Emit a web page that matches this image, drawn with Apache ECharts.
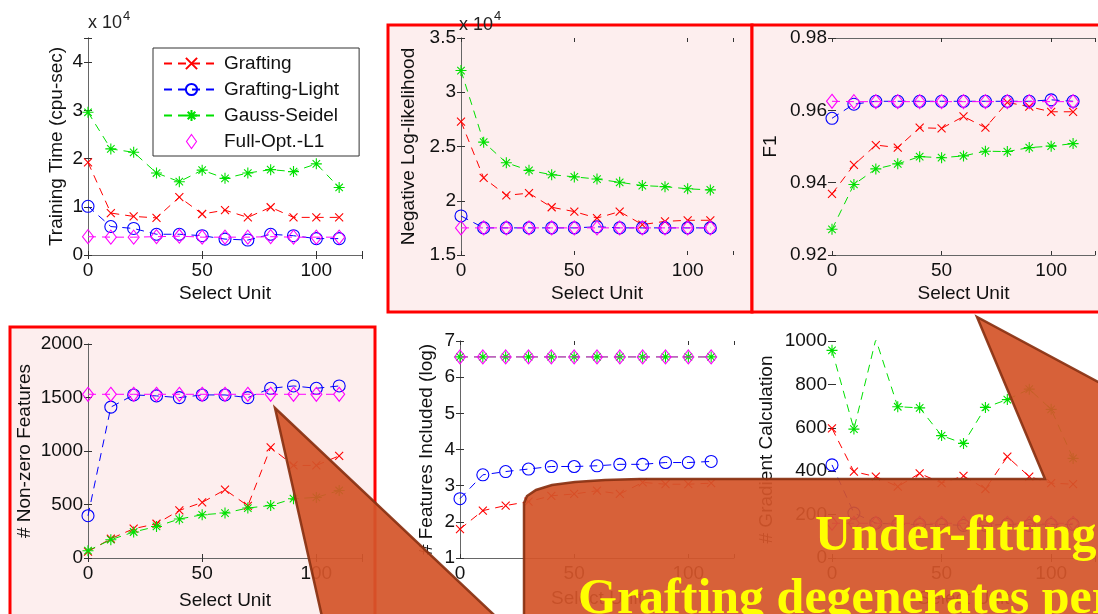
<!DOCTYPE html>
<html><head><meta charset="utf-8">
<script src="https://cdn.jsdelivr.net/npm/echarts@6/dist/echarts.min.js"></script>
<style>html,body{margin:0;padding:0;background:#fff}#c{width:1098px;height:614px}</style>
</head><body><div id="c"></div>
<script>
// ---- data ----
const selectUnit = [0,10,20,30,40,50,60,70,80,90,100,110];
const seriesNames = ['Grafting','Grafting-Light','Gauss-Seidel','Full-Opt.-L1'];
// Training time (x 10^4 cpu-sec)
const trainGrafting = [1.92,0.87,0.80,0.77,1.20,0.85,0.93,0.78,0.99,0.78,0.78,0.78];
const trainLight    = [1.01,0.59,0.55,0.43,0.43,0.40,0.33,0.31,0.43,0.40,0.34,0.34];
const trainGauss    = [2.96,2.20,2.13,1.70,1.52,1.76,1.59,1.70,1.77,1.73,1.89,1.40];
const trainFull     = [0.38,0.37,0.37,0.38,0.39,0.37,0.37,0.37,0.38,0.37,0.37,0.37];
// Negative log-likelihood (x 10^4)
const nllGrafting = [2.73,2.21,2.05,2.07,1.94,1.90,1.84,1.90,1.78,1.81,1.82,1.82];
const nllLight    = [1.86,1.75,1.75,1.75,1.75,1.75,1.76,1.75,1.75,1.75,1.75,1.75];
const nllGauss    = [3.20,2.54,2.35,2.28,2.24,2.22,2.20,2.17,2.14,2.13,2.11,2.10];
const nllFull     = [1.75,1.75,1.75,1.75,1.75,1.75,1.75,1.75,1.75,1.75,1.75,1.75];
// F1
const f1Grafting = [0.9369,0.9449,0.9504,0.9497,0.9552,0.9550,0.9583,0.9552,0.9622,0.9610,0.9596,0.9596];
const f1Light    = [0.9578,0.9617,0.9625,0.9625,0.9625,0.9625,0.9625,0.9625,0.9625,0.9625,0.9629,0.9625];
const f1Gauss    = [0.9271,0.9395,0.9438,0.9452,0.9472,0.9469,0.9474,0.9487,0.9486,0.9497,0.9501,0.9508];
const f1Full     = [0.9625,0.9624,0.9624,0.9624,0.9624,0.9624,0.9624,0.9624,0.9624,0.9624,0.9624,0.9624];
// # Non-zero features
const nzGrafting = [60,180,274,320,445,519,638,488,1033,865,865,955];
const nzLight    = [395,1410,1524,1515,1499,1524,1524,1499,1586,1608,1586,1608];
const nzGauss    = [68,171,243,295,364,404,420,467,491,554,566,631];
const nzFull     = [1530,1530,1530,1530,1530,1530,1530,1530,1530,1530,1530,1530];
// # Features included (log)
const fiGrafting = [1.80,2.31,2.45,2.56,2.72,2.77,2.86,2.77,3.09,3.04,3.04,3.07];
const fiLight    = [2.64,3.30,3.39,3.46,3.53,3.53,3.55,3.59,3.59,3.64,3.64,3.67];
const fiGauss    = [6.56,6.56,6.56,6.56,6.56,6.56,6.56,6.56,6.56,6.56,6.56,6.56];
const fiFull     = [6.56,6.56,6.56,6.56,6.56,6.56,6.56,6.56,6.56,6.56,6.56,6.56];
// # Gradient calculation
const gcGrafting = [597,398,375,329,390,345,378,318,467,375,345,340];
const gcLight    = [429,207,161,155,155,155,150,150,155,150,155,155];
const gcGauss    = [957,594,1008,697,692,564,528,694,730,778,685,459];
const gcFull     = [160,160,160,160,160,160,160,160,160,160,160,160];
// tick settings
const xTicks = {min:0, max:120, interval:50};
const yTitles = ['Training Time (cpu-sec)','Negative Log-likelihood','F1','# Non-zero Features','# Features Included (log)','# Gradient Calculation'];
const yRanges = [[0,4.5,1],[1.5,3.5,0.5],[0.92,0.98,0.02],[0,2000,500],[1,7,1],[0,1000,200]];
const xTitle = 'Select Unit';

// ---- layout ----
const FONT = "'Liberation Sans', Arial, sans-serif";
const SERIF = "'Liberation Serif','Times New Roman',serif";
const grids = [
  {left:88, top:38, width:274, height:217},
  {left:461, top:38, width:272, height:217},
  {left:832, top:38, width:271, height:217},
  {left:88, top:344, width:274, height:214},
  {left:460, top:341, width:274, height:217},
  {left:832, top:341, width:271, height:217}
];
const yGaps = [22,43,52,54,24,56];
const xGaps = [29,29,29,33,31,31];
// which box edges are visible [left, bottom, right, top]
const edges = [[1,0,1,1],[1,0,1,0],[0,1,0,1],[1,1,1,0],[1,1,1,0],[0,1,0,0]];
const AX = '#666';

const colors = ['#ff0000','#0000ff','#00e000','#ff00ff'];
const symbols = ['path://M0,0L10,10M0,10L10,0','circle','path://M5,0L5,10M0,5L10,5M1.6,1.6L8.4,8.4M1.6,8.4L8.4,1.6','diamond'];
const symSizes = [8,12,11,[11,14]];

const plotData = [
  [trainGrafting,trainLight,trainGauss,trainFull],
  [nllGrafting,nllLight,nllGauss,nllFull],
  [f1Grafting,f1Light,f1Gauss,f1Full],
  [nzGrafting,nzLight,nzGauss,nzFull],
  [fiGrafting,fiLight,fiGauss,fiFull],
  [gcGrafting,gcLight,gcGauss,gcFull]
];
const hideLine = {'0-3':1,'2-3':1,'4-3':1,'4-2':1,'5-3':1};

const xAxes = [], yAxes = [], series = [];
grids.forEach((g,i)=>{
  const e = edges[i];
  const [ymin,ymax,yint] = yRanges[i];
  xAxes.push({type:'value', gridIndex:i, position:'bottom', min:xTicks.min, max:xTicks.max, interval:xTicks.interval,
    name:xTitle, nameLocation:'middle', nameGap:xGaps[i], nameTextStyle:{fontFamily:FONT,fontSize:19,color:'#111'},
    axisLine:{show:!!e[1], lineStyle:{color:AX,width:1}},
    axisTick:{inside:true,length:4,lineStyle:{color:'#333'}},
    axisLabel:{margin:6,fontFamily:FONT,fontSize:19,color:'#111',formatter:v=> (v%50===0? String(v):'')},
    splitLine:{show:false}});
  yAxes.push({type:'value', gridIndex:i, position:'left', min:ymin, max:ymax, interval:yint,
    name:yTitles[i], nameLocation:'middle', nameGap:yGaps[i], nameRotate:90,
    nameTextStyle:{fontFamily:FONT,fontSize:19,color:'#111'},
    axisLine:{show:!!e[0], lineStyle:{color:AX,width:1}},
    axisTick:{inside:true,length:4,lineStyle:{color:'#333'}},
    axisLabel:{margin:5,fontFamily:FONT,fontSize:19,color:'#111',
      formatter:v=>{ if (i===2) return v.toFixed(2); const r=Math.round(v/yint)*yint; return Math.abs(r-v)<1e-9 && (i!==0 || Number.isInteger(v)) ? String(+v.toFixed(4)) : ''; }},
    splitLine:{show:false}});
});
grids.forEach((g,i)=>{
  const e = edges[i];
  const [ymin,ymax,yint] = yRanges[i];
  xAxes.push({type:'value', gridIndex:i, position:'top', min:xTicks.min, max:xTicks.max, interval:xTicks.interval,
    axisLine:{show:!!e[3], lineStyle:{color:AX,width:1}},
    axisTick:{inside:true,length:4,lineStyle:{color:'#333'}}, axisLabel:{show:false}, splitLine:{show:false}});
  yAxes.push({type:'value', gridIndex:i, position:'right', min:ymin, max:ymax, interval:yint,
    axisLine:{show:!!e[2], lineStyle:{color:AX,width:1}},
    axisTick:{inside:true,length:4,lineStyle:{color:'#333'}}, axisLabel:{show:false}, splitLine:{show:false}});
});
plotData.forEach((set,i)=>{
  set.forEach((vals,k)=>{
    series.push({
      type:'line', name:seriesNames[k], xAxisIndex:i, yAxisIndex:i,
      data: selectUnit.map((x,j)=>[x, vals[j]]),
      symbol:symbols[k], symbolSize:symSizes[k], showAllSymbol:true,
      showLine: !hideLine[i+'-'+k],
      itemStyle:{color:'rgba(0,0,0,0)', borderColor:colors[k], borderWidth:1.1},
      lineStyle:{color:colors[k], width:1, type:[8,6]},
      emphasis:{disabled:true}, animation:false, z: 3+k
    });
  });
});

const legendData = seriesNames.map((n,k)=> k===3
  ? {name:n, icon:'path://M5,0L10,7L5,14L0,7Z', itemStyle:{color:'rgba(0,0,0,0)', borderColor:colors[3], borderWidth:1.1}}
  : {name:n});

const callout = '#d4552a', calloutBorder = '#8a3212';
const bodyPts = [[524,630],[524,503],[527,496],[536,490],[552,485],[575,482],[605,480],[640,479],[1045,479],[977,317],[1115,391],[1115,630]];
const option = {
  backgroundColor:'#fff',
  animation:false,
  grid: grids,
  xAxis: xAxes,
  yAxis: yAxes,
  legend:{
    show:true, orient:'vertical', left:153, top:48,
    data: legendData,
    backgroundColor:'#fff', borderColor:'#333', borderWidth:1,
    padding:[6,20,5,10], itemGap:7, itemWidth:55, itemHeight:14, itemTextGap:11,
    textStyle:{fontFamily:FONT,fontSize:19,color:'#111'},
    selectedMode:false
  },
  graphic:[
    {type:'rect', z:-10, shape:{x:388,y:25,width:364,height:287}, style:{fill:'#fdeeee',stroke:'#ff0000',lineWidth:3}},
    {type:'rect', z:-10, shape:{x:752,y:25,width:360,height:287}, style:{fill:'#fdeeee',stroke:'#ff0000',lineWidth:3}},
    {type:'rect', z:-10, shape:{x:10,y:327,width:365,height:300}, style:{fill:'#fdeeee',stroke:'#ff0000',lineWidth:3}},
    {type:'text', z:50, style:{x:88,y:23,text:'x 10',fontFamily:FONT,fontSize:18,fill:'#222',verticalAlign:'middle'}},
    {type:'text', z:50, style:{x:123,y:16,text:'4',fontFamily:FONT,fontSize:13,fill:'#222',verticalAlign:'middle'}},
    {type:'text', z:50, style:{x:459,y:25,text:'x 10',fontFamily:FONT,fontSize:18,fill:'#222',verticalAlign:'middle'}},
    {type:'text', z:50, style:{x:494,y:16,text:'4',fontFamily:FONT,fontSize:13,fill:'#222',verticalAlign:'middle'}},
    {type:'polygon', z:100, shape:{points:bodyPts},
      style:{fill:callout,stroke:calloutBorder,lineWidth:2.5,opacity:0.93}},
    {type:'polygon', z:100, shape:{points:[[275,408],[325,630],[510,630]]},
      style:{fill:callout,stroke:calloutBorder,lineWidth:2.5,opacity:0.93}},
    {type:'text', z:110, style:{x:815,y:537,text:'Under-fitting',fontFamily:SERIF,fontWeight:'bold',fontSize:50,fill:'#ffff00',verticalAlign:'middle',textShadowColor:'rgba(70,20,0,0.6)',textShadowOffsetX:1,textShadowOffsetY:1}},
    {type:'text', z:110, style:{x:578,y:600,text:'Grafting degenerates performance',fontFamily:SERIF,fontWeight:'bold',fontSize:50,fill:'#ffff00',verticalAlign:'middle',textShadowColor:'rgba(70,20,0,0.6)',textShadowOffsetX:1,textShadowOffsetY:1}}
  ],
  series: series
};
const chart = echarts.init(document.getElementById('c'), null, {renderer:'canvas'});
chart.setOption(option);
</script></body></html>
